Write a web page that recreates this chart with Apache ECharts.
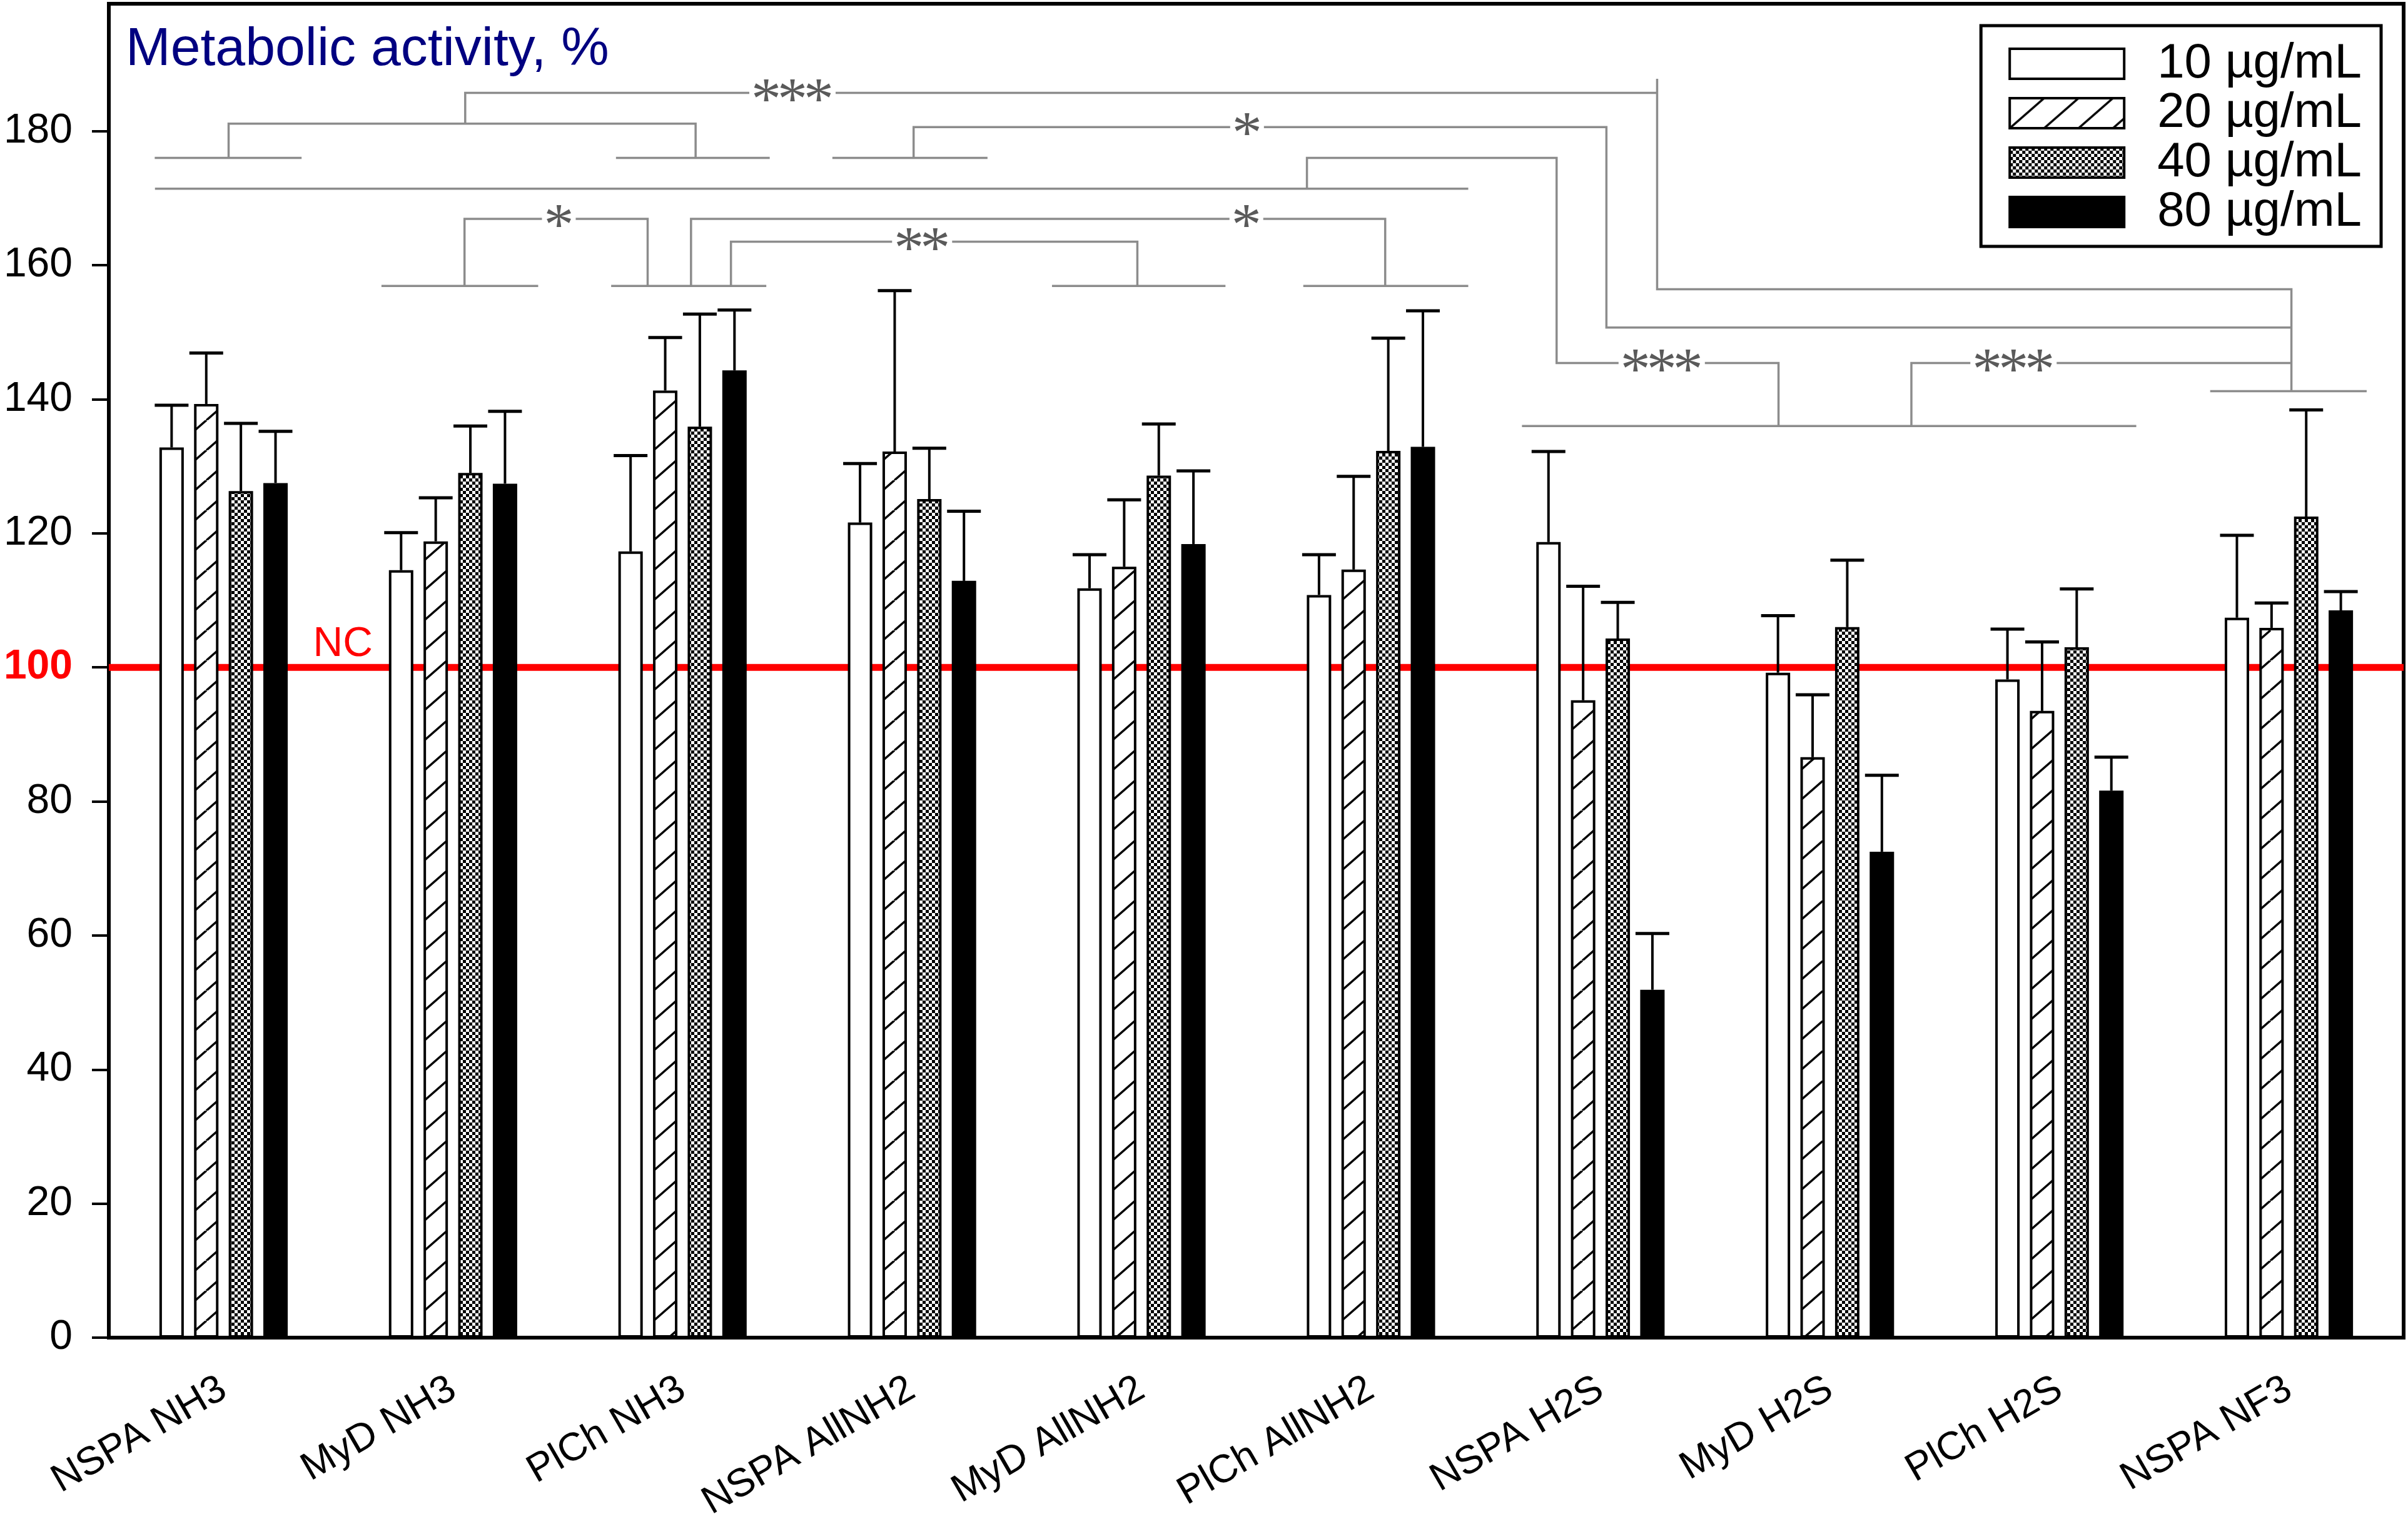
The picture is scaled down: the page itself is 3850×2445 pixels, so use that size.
<!DOCTYPE html>
<html>
<head>
<meta charset="utf-8">
<script src="https://cdn.jsdelivr.net/npm/echarts@6/dist/echarts.min.js"></script>
<style>
  html, body { margin: 0; padding: 0; background: #fff; }
  #chart { width: 3850px; height: 2445px; }
</style>
<title>Metabolic activity</title>
</head>
<body>
<div id="chart"></div>
<script>
// data
var categories = ['NSPA NH3', 'MyD NH3', 'PlCh NH3', 'NSPA AllNH2', 'MyD AllNH2', 'PlCh AllNH2', 'NSPA H2S', 'MyD H2S', 'PlCh H2S', 'NSPA NF3'];
var seriesNames = ['10 µg/mL', '20 µg/mL', '40 µg/mL', '80 µg/mL'];
var mean10 = [132.8, 114.5, 117.3, 121.6, 111.8, 110.8, 118.7, 99.2, 98.2, 107.4];
var mean20 = [139.3, 118.8, 141.3, 132.2, 115.0, 114.6, 95.1, 86.6, 93.5, 105.9];
var mean40 = [126.3, 129.0, 135.9, 125.1, 128.6, 132.3, 104.3, 106.0, 103.0, 122.5];
var mean80 = [127.5, 127.4, 144.3, 112.9, 118.4, 132.9, 51.9, 72.5, 81.6, 108.5];
var sd10 = [6.3, 5.6, 14.3, 8.8, 5.0, 6.0, 13.5, 8.5, 7.5, 12.3];
var sd20 = [7.6, 6.5, 7.9, 24.0, 10.0, 13.9, 17.0, 9.3, 10.3, 3.7];
var sd40 = [10.1, 7.0, 16.8, 7.6, 7.7, 16.8, 5.4, 10.0, 8.7, 15.9];
var sd80 = [7.7, 10.8, 9.0, 10.4, 10.9, 20.3, 8.4, 11.4, 5.0, 2.8];
var yTicks = [0, 20, 40, 60, 80, 100, 120, 140, 160, 180];
var ncValue = 100;

// significance brackets, in (category position, value) units
var bracketLines = [
  [[-0.30, 176.0], [0.34, 176.0]],
  [[1.71, 176.0], [2.38, 176.0]],
  [[0.022, 176.0], [0.022, 181.1], [2.057, 181.1], [2.057, 176.0]],
  [[1.053, 181.1], [1.053, 185.7], [6.247, 185.7]],
  [[6.247, 187.8], [6.247, 156.4], [9.011, 156.4], [9.011, 141.2]],
  [[2.653, 176.0], [3.329, 176.0]],
  [[3.007, 176.0], [3.007, 180.6], [6.026, 180.6], [6.026, 150.7], [9.011, 150.7]],
  [[-0.299, 171.4], [5.424, 171.4]],
  [[4.721, 171.4], [4.721, 176.0], [5.809, 176.0], [5.809, 145.4], [6.776, 145.4], [6.776, 136.0]],
  [[5.658, 136.0], [8.335, 136.0]],
  [[7.355, 136.0], [7.355, 145.4], [9.011, 145.4]],
  [[8.657, 141.2], [9.339, 141.2]],
  [[0.688, 156.9], [1.371, 156.9]],
  [[1.050, 156.9], [1.050, 166.9], [1.848, 166.9], [1.848, 156.9]],
  [[1.689, 156.9], [2.365, 156.9]],
  [[2.037, 156.9], [2.037, 166.9], [5.062, 166.9], [5.062, 156.9]],
  [[4.705, 156.9], [5.424, 156.9]],
  [[2.211, 156.9], [2.211, 163.5], [3.982, 163.5], [3.982, 156.9]],
  [[3.610, 156.9], [4.366, 156.9]]
];
var stars = [[2.479, 185.7, 3], [4.460, 180.6, 1], [6.267, 145.4, 3], [7.800, 145.4, 3], [1.461, 166.9, 1], [4.457, 166.9, 1], [3.044, 163.5, 2]];

var FONT = '"Liberation Sans", Arial, sans-serif';
var BAR_W = 39;
var BAR_GAP = 0.42;
var PITCH = BAR_W * (1 + BAR_GAP);

function hatch() {
  var c = document.createElement('canvas');
  c.width = 55; c.height = 48;
  var g = c.getContext('2d');
  g.fillStyle = '#fff'; g.fillRect(0, 0, 55, 48);
  g.strokeStyle = '#000'; g.lineWidth = 3.5;
  [-55, 0, 55].forEach(function (dx) {
    g.beginPath(); g.moveTo(dx, 48); g.lineTo(dx + 55, 0); g.stroke();
  });
  return c;
}
function checker() {
  var c = document.createElement('canvas');
  c.width = 10; c.height = 10;
  var g = c.getContext('2d');
  g.fillStyle = '#000'; g.fillRect(0, 0, 10, 10);
  g.fillStyle = '#fff'; g.fillRect(0, 0, 5, 5); g.fillRect(5, 5, 5, 5);
  return c;
}

var fills = ['#ffffff', { image: hatch(), repeat: 'repeat' }, { image: checker(), repeat: 'repeat' }, '#000000'];
var means = [mean10, mean20, mean40, mean80];
var sds = [sd10, sd20, sd40, sd80];

var myChart = echarts.init(document.getElementById('chart'));

var series = [];
// NC reference line, under the bars
series.push({
  type: 'custom',
  name: 'NC',
  xAxisIndex: 1,
  z: 1,
  silent: true,
  data: [[0.52, ncValue]],
  renderItem: function (params, api) {
    var a = api.coord([-0.5, ncValue]);
    var b = api.coord([9.5, ncValue]);
    var t = api.coord([api.value(0), ncValue + 0.3]);
    return {
      type: 'group',
      children: [
        { type: 'line', shape: { x1: a[0], y1: a[1], x2: b[0], y2: b[1] }, style: { stroke: '#ff0000', lineWidth: 11 } },
        { type: 'text', x: t[0], y: t[1], style: { text: 'NC', fill: '#ff0000', font: '66px ' + FONT, align: 'center', verticalAlign: 'bottom' } }
      ]
    };
  }
});

for (var s = 0; s < 4; s++) {
  series.push({
    name: seriesNames[s],
    type: 'bar',
    barWidth: BAR_W,
    barGap: (BAR_GAP * 100) + '%',
    z: 2,
    data: means[s],
    itemStyle: { color: fills[s], borderColor: '#000', borderWidth: 4 }
  });
}

for (var s2 = 0; s2 < 4; s2++) {
  (function (k) {
    series.push({
      type: 'custom',
      name: 'err' + k,
      z: 3,
      silent: true,
      data: categories.map(function (c, i) { return [i, means[k][i], means[k][i] + sds[k][i]]; }),
      renderItem: function (params, api) {
        var base = api.coord([api.value(0), api.value(1)]);
        var top = api.coord([api.value(0), api.value(2)]);
        var x = base[0] + (k - 1.5) * PITCH;
        return {
          type: 'group',
          children: [
            { type: 'line', shape: { x1: x, y1: base[1], x2: x, y2: top[1] }, style: { stroke: '#000', lineWidth: 4 } },
            { type: 'line', shape: { x1: x - 27, y1: top[1], x2: x + 27, y2: top[1] }, style: { stroke: '#000', lineWidth: 5 } }
          ]
        };
      }
    });
  })(s2);
}

series.push({
  type: 'custom',
  name: 'brackets',
  xAxisIndex: 1,
  z: 4,
  silent: true,
  data: bracketLines.map(function (b, i) { return [b[0][0], b[0][1], i]; }),
  renderItem: function (params, api) {
    var pts = bracketLines[api.value(2)].map(function (p) { return api.coord(p); });
    return { type: 'polyline', shape: { points: pts }, style: { stroke: '#8c8c8c', lineWidth: 3.5, fill: null } };
  }
});

series.push({
  type: 'custom',
  name: 'stars',
  xAxisIndex: 1,
  z: 5,
  silent: true,
  data: stars,
  renderItem: function (params, api) {
    var c = api.coord([api.value(0), api.value(1)]);
    var n = api.value(2);
    var step = 42;
    var kids = [{ type: 'rect', shape: { x: c[0] - n * step / 2 - 6, y: c[1] - 12, width: n * step + 12, height: 24 }, style: { fill: '#fff' } }];
    for (var j = 0; j < n; j++) {
      kids.push({
        type: 'text',
        x: c[0] + (j - (n - 1) / 2) * step,
        y: c[1] + 16,
        style: { text: '*', fill: '#5a5a5a', font: '96px "Liberation Serif", "Times New Roman", serif', align: 'center', verticalAlign: 'middle' }
      });
    }
    return { type: 'group', children: kids };
  }
});

var option = {
  animation: false,
  backgroundColor: '#fff',
  textStyle: { fontFamily: FONT },
  title: {
    text: 'Metabolic activity, %',
    left: 196,
    top: 32,
    textStyle: { color: '#000080', fontSize: 86, fontWeight: 'normal', fontFamily: FONT }
  },
  legend: {
    data: seriesNames,
    orient: 'vertical',
    right: 43,
    top: 41,
    icon: 'rect',
    itemWidth: 183,
    itemHeight: 48,
    itemGap: 1,
    padding: [22, 31, 16, 44],
    backgroundColor: '#fff',
    borderColor: '#000',
    borderWidth: 5,
    itemStyle: { borderColor: '#000', borderWidth: 4 },
    textStyle: { fontSize: 78, color: '#000', fontFamily: FONT, padding: [0, 0, 0, 48] }
  },
  grid: {
    left: 174, right: 7, top: 6, bottom: 306,
    containLabel: false,
    outerBoundsMode: 'none',
    show: true, borderColor: '#000', borderWidth: 6, backgroundColor: 'transparent'
  },
  xAxis: [{
    type: 'category',
    data: categories,
    axisLine: { onZero: false, lineStyle: { color: '#000', width: 5 } },
    axisTick: { alignWithLabel: true, length: 25, lineStyle: { color: '#000', width: 3 } },
    axisLabel: { rotate: 30, interval: 0, fontSize: 63, color: '#000', margin: 78, fontFamily: FONT },
    splitLine: { show: false }
  }, {
    type: 'value',
    min: -0.5,
    max: 9.5,
    show: false,
    axisLine: { show: false, onZero: false },
    axisTick: { show: false },
    axisLabel: { show: false },
    splitLine: { show: false }
  }],
  yAxis: {
    type: 'value',
    min: 0,
    max: 199,
    interval: 20,
    axisLine: { show: true, onZero: false, lineStyle: { color: '#000', width: 5 } },
    axisTick: { show: true, length: 27, lineStyle: { color: '#000', width: 4 }, customValues: yTicks },
    axisLabel: {
      customValues: yTicks,
      fontSize: 66,
      color: '#000',
      margin: 58,
      fontFamily: FONT,
      formatter: function (v) {
        if (v % 20 !== 0) return '';
        if (v === ncValue) return '{r|' + v + '}';
        return String(v);
      },
      rich: {
        r: {
          color: '#ff0000', fontWeight: 'bold', fontSize: 66, fontFamily: FONT,
          textShadowColor: '#000', textShadowOffsetX: -4, textShadowOffsetY: -3, textShadowBlur: 0
        }
      }
    },
    splitLine: { show: false }
  },
  series: series
};

myChart.setOption(option);
</script>
</body>
</html>
